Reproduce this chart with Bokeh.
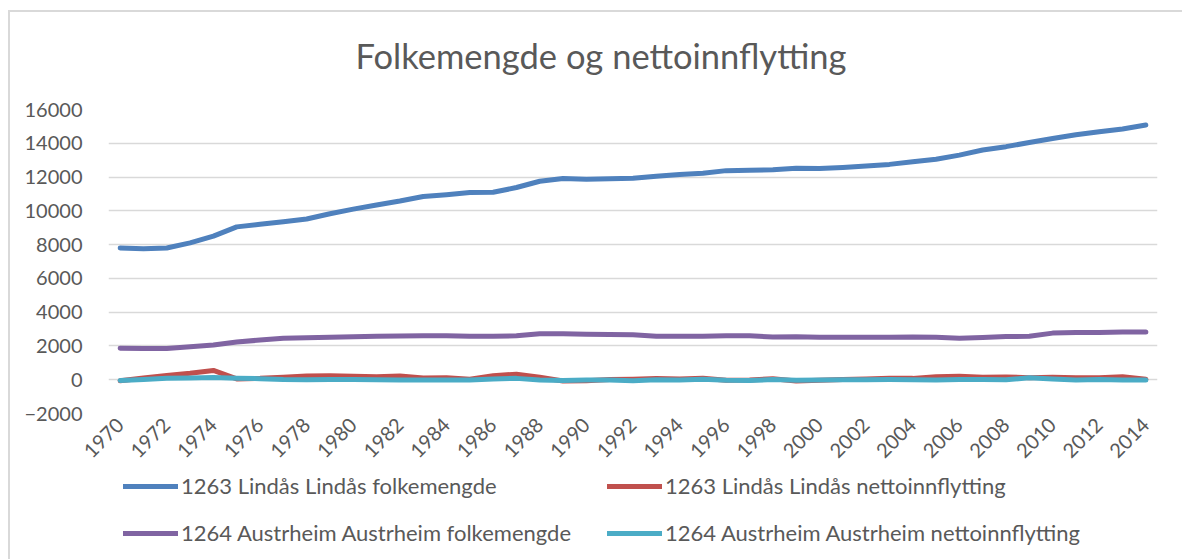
from bokeh.plotting import figure
from bokeh.layouts import column
from bokeh.models import Range1d, FixedTicker, Legend, LegendItem, Title
from bokeh.embed import file_html
from bokeh.resources import INLINE
import math

years = list(range(1970, 2015))

lindas_folk = [7800, 7750, 7800, 8100, 8500, 9050, 9200, 9350, 9520, 9830,
               10100, 10350, 10580, 10850, 10950, 11080, 11100, 11380, 11750, 11920,
               11870, 11900, 11930, 12050, 12150, 12220, 12380, 12400, 12430, 12520,
               12500, 12570, 12650, 12750, 12900, 13050, 13300, 13600, 13800, 14050,
               14280, 14500, 14680, 14850, 15080]
lindas_netto = [-60, 100, 250, 380, 550, 50, 80, 150, 220, 230,
                200, 180, 220, 100, 120, 30, 230, 330, 150, -80,
                -60, 10, 30, 70, 40, 90, -30, -10, 60, -80,
                -30, 10, 40, 80, 80, 170, 210, 140, 160, 120,
                140, 110, 120, 170, 30]
austrheim_folk = [1870, 1850, 1850, 1950, 2050, 2230, 2350, 2450, 2490, 2510,
                  2540, 2570, 2590, 2610, 2600, 2580, 2580, 2600, 2720, 2720,
                  2690, 2680, 2660, 2580, 2580, 2580, 2600, 2600, 2530, 2550,
                  2510, 2510, 2510, 2510, 2530, 2510, 2460, 2500, 2560, 2570,
                  2760, 2790, 2790, 2830, 2830]
austrheim_netto = [-40, 20, 80, 100, 130, 90, 60, 10, 0, 10,
                   10, 0, -10, -20, -20, -10, 50, 80, -20, -50,
                   -20, -20, -60, 0, -10, 30, -30, -50, 10, -30,
                   -10, 0, 0, 10, 0, -20, 10, 20, 0, 110,
                   40, -20, 20, -10, -10]

series_names = ["1263 Lindås Lindås folkemengde",
                "1263 Lindås Lindås nettoinnflytting",
                "1264 Austrheim Austrheim folkemengde",
                "1264 Austrheim Austrheim nettoinnflytting"]
series_values = [lindas_folk, lindas_netto, austrheim_folk, austrheim_netto]
series_colors = ["#4F81BD", "#C0504D", "#8064A2", "#4BACC6"]
y_ticks = list(range(-2000, 16001, 2000))
x_ticks = list(range(1970, 2015, 2))
chart_title = "Folkemengde og nettoinnflytting"

FONT = "Lato"
TXT = "#595959"

# title strip
tf = figure(width=1172, height=85, output_backend="svg", toolbar_location=None,
            x_axis_type=None, y_axis_type=None, outline_line_color=None,
            min_border=0, min_border_top=63, x_range=Range1d(0, 1), y_range=Range1d(0, 1))
tf.xgrid.grid_line_color = None
tf.ygrid.grid_line_color = None
tf.title = Title(text=chart_title, align="left", text_font=FONT,
                 text_font_size="34.5px", text_font_style="normal",
                 text_color=TXT, standoff=0, offset=247)

# main chart
p = figure(width=1172, height=373, output_backend="svg", toolbar_location=None,
           x_range=Range1d(1969.5, 2014.5), y_range=Range1d(-2000, 16000),
           min_border_left=98, min_border_right=25, min_border_top=12,
           min_border_bottom=57, outline_line_color=None)

for vals, col in zip(series_values, series_colors):
    p.line(years, vals, line_color=col, line_width=5, line_cap="round",
           line_join="round")

p.yaxis.ticker = FixedTicker(ticks=y_ticks)
p.yaxis.axis_line_color = None
p.yaxis.major_tick_line_color = None
p.yaxis.minor_tick_line_color = None
p.yaxis.major_label_standoff = 20
p.yaxis.major_label_text_font = FONT
p.yaxis.major_label_text_font_size = "20px"
p.yaxis.major_label_text_color = TXT

p.xaxis.ticker = FixedTicker(ticks=x_ticks)
p.xaxis.axis_line_color = None
p.xaxis.major_tick_line_color = None
p.xaxis.minor_tick_line_color = None
p.xaxis.major_label_orientation = math.pi / 4
p.xaxis.major_label_standoff = 2
p.xaxis.major_label_text_font = FONT
p.xaxis.major_label_text_font_size = "20px"
p.xaxis.major_label_text_color = TXT

p.xgrid.grid_line_color = None
p.ygrid.ticker = FixedTicker(ticks=y_ticks)
p.ygrid.grid_line_color = "#d9d9d9"
p.ygrid.grid_line_width = 1.5

# legend panel below the chart (its renderers lie outside its visible range)
lg = figure(width=1172, height=89, output_backend="svg", toolbar_location=None,
            x_axis_type=None, y_axis_type=None, outline_line_color=None,
            min_border=0, x_range=Range1d(0, 1), y_range=Range1d(0, 1))
lg.xgrid.grid_line_color = None
lg.ygrid.grid_line_color = None
leg_r = [lg.line(years, vals, line_color=c, line_width=5, line_cap="round")
         for vals, c in zip(series_values, series_colors)]

def make_legend(idx, loc):
    return Legend(items=[LegendItem(label=series_names[i], renderers=[leg_r[i]]) for i in idx],
                  location=loc, orientation="vertical",
                  glyph_width=55, glyph_height=24, label_height=24, label_standoff=3,
                  spacing=20, padding=0, margin=0, border_line_color=None,
                  background_fill_alpha=0, label_text_font=FONT,
                  label_text_font_size="22px", label_text_color=TXT)

lg.add_layout(make_legend([0, 2], (15, 13)), "center")
lg.add_layout(make_legend([1, 3], (499, 13)), "center")

layout = column(tf, p, lg, spacing=0, margin=(10, 0, 0, 8),
                styles={"border-top": "2px solid #d9d9d9", "border-left": "2px solid #d9d9d9"})

open("out.html", "w").write(file_html(layout, INLINE))
